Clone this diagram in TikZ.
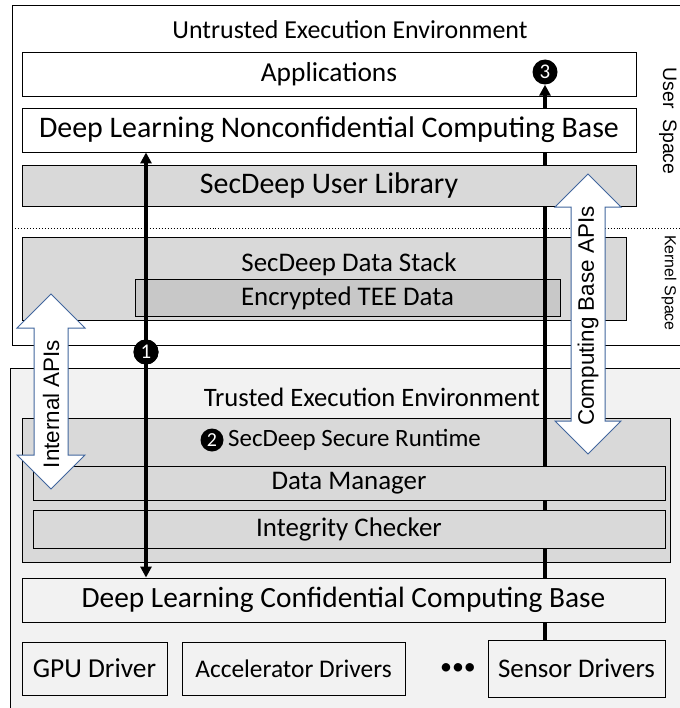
\documentclass[tikz,border=0pt]{standalone}
\usepackage{fontspec}
\setmainfont{Carlito}
\newfontfamily\arialfont{Liberation Sans}
\usetikzlibrary{arrows.meta}
\definecolor{boxgray}{HTML}{D9D9D9}
\definecolor{darkgray}{HTML}{C8C8C8}
\definecolor{teebg}{HTML}{F2F2F2}
\definecolor{apiblue}{HTML}{41669E}
\newcommand{\fsz}[1]{\fontsize{#1}{#1}\selectfont}
\begin{document}
\begin{tikzpicture}[x=1bp,y=-1bp,
  layer/.style={draw=black, line width=0.9bp, inner sep=0pt, font=\fsz{27}},
  region/.style={draw=black, line width=0.9bp, inner sep=0pt},
  title/.style={inner sep=0pt, font=\fsz{26}},
  flow/.style={line width=3.4bp, -{Triangle[length=11bp,width=11bp]}},
  badge/.style={circle, fill=black, inner sep=0pt, minimum size=25bp, text=white, font=\fsz{21}},
  blockarrow/.style={draw=apiblue, fill=white, line width=1bp, line join=miter},
  apitext/.style={inner sep=0pt, rotate=90, font=\arialfont\fsz{22.5}},
  spacetext/.style={inner sep=0pt, rotate=-90},
]
\useasboundingbox (0,0) rectangle (680,708);
\clip (0,0) rectangle (680,708);
\fill[white] (0,0) rectangle (680,708);

% environments
\node[region, fill=white, minimum width=688bp, minimum height=340bp] (untrusted) at (356,175) {};
\node[title] (untrustedlbl) at (350,30) {Untrusted Execution Environment};
\node[region, fill=teebg, minimum width=690bp, minimum height=352bp] (trusted) at (355,544) {};
\node[title, font=\fsz{26.7}] (trustedlbl) at (372,397) {Trusted Execution Environment};

% user / kernel boundary
\coordinate (sepL) at (12,228);
\coordinate (sepR) at (680,228);
\draw[line width=1bp, dotted] (sepL) -- (sepR);
\node[spacetext, font=\arialfont\fsz{19.5}] (userspace) at (668,121) {User\ \ Space};
\node[spacetext, font=\arialfont\fsz{16}] (kernelspace) at (669,283) {Kernel Space};

% kernel-side and runtime containers
\node[layer, fill=boxgray, minimum width=604bp, minimum height=83bp] (datastack) at (324,278.5) {};
\node[title, font=\fsz{27}] (datastacklbl) at (349,264) {SecDeep Data Stack};
\node[layer, fill=darkgray, minimum width=425bp, minimum height=37bp] (encrypted) at (347.5,298) {Encrypted TEE Data};
\node[layer, fill=boxgray, minimum width=648bp, minimum height=144bp] (runtime) at (346,490) {};
\node[title, anchor=west, font=\fsz{25}] (runtimelbl) at (228,440) {SecDeep Secure Runtime};
\node[badge, minimum size=23bp, font=\fsz{20}] (c2) at (212,440) {2};

% upper layers
\node[layer, fill=white, minimum width=614bp, minimum height=44bp, font=\fsz{27.5}] (apps) at (329,74) {Applications};

% path 3: from the sensor drivers up to the applications
\node[badge] (c3) at (545,72) {3};
\coordinate (p3) at (545,640);
\draw[flow] (p3) -- (c3.south);

\node[layer, fill=white, minimum width=614bp, minimum height=44bp, font=\fsz{30}] (dlncb) at (329,130) {Deep Learning Nonconfidential Computing Base};
\node[layer, fill=boxgray, minimum width=614bp, minimum height=41bp, font=\fsz{30}] (userlib) at (329,185.5) {SecDeep User Library};

% runtime components
\node[layer, fill=boxgray, minimum width=632bp, minimum height=34bp] (datamgr) at (349,483) {Data Manager};
\node[layer, fill=boxgray, minimum width=632bp, minimum height=38bp] (integrity) at (349,529) {Integrity Checker};
\node[layer, fill=teebg, minimum width=643bp, minimum height=44bp, font=\fsz{29.5}] (confbase) at (343.5,600) {Deep Learning Confidential Computing Base};

% drivers
\node[layer, fill=teebg, minimum width=145bp, minimum height=53bp, font=\fsz{27.5}] (gpu) at (94.5,668.5) {GPU Driver};
\node[layer, fill=teebg, minimum width=223bp, minimum height=53bp, font=\fsz{25.5}] (accel) at (293.5,668.5) {Accelerator Drivers};
\node[title, font=\fsz{24}] (dots) at (458,669) {•••};
\node[layer, fill=teebg, minimum width=177bp, minimum height=57bp] (sensor) at (576.5,668.5) {Sensor Drivers};

% path 1: between the two computing bases
\node[badge] (c1) at (146,352) {};
\draw[line width=3.4bp, {Triangle[length=11bp,width=11bp]}-{Triangle[length=11bp,width=11bp]}] (dlncb.south -| c1) -- (confbase.north -| c1);
\node[badge] (c1n) at (146,352) {1};

% API block arrows
\draw[blockarrow] (51,294) -- (85,328) -- (68,328) -- (68,455) -- (85,455) -- (51,489)
  -- (17,455) -- (34,455) -- (34,328) -- (17,328) -- cycle;
\node[apitext] (internal) at (51,404) {Internal APIs};
\draw[blockarrow] (588,174) -- (621,207) -- (605,207) -- (605,421) -- (621,421) -- (588,454)
  -- (555,421) -- (571,421) -- (571,207) -- (555,207) -- cycle;
\node[apitext] (computing) at (588,316) {Computing Base APIs};
\end{tikzpicture}
\end{document}
